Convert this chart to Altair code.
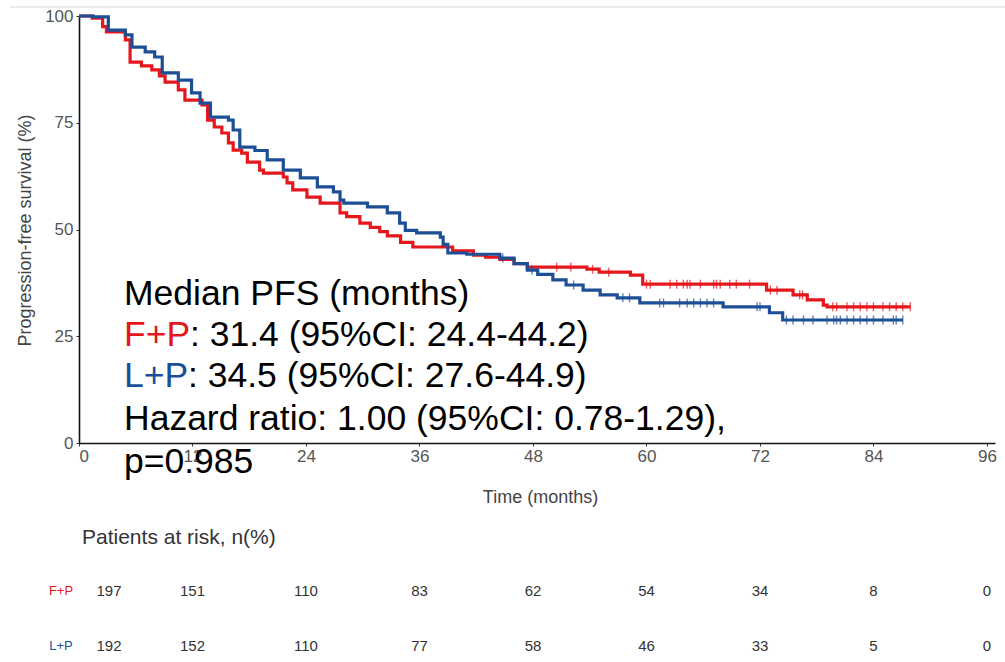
import altair as alt
import numpy as np
import pandas as pd

# Kaplan-Meier step curves (months, % progression-free)
fp_time = [0, 1.4, 2.5, 2.9, 4.9, 5.4, 6.6, 7.7, 8.5, 9.1, 10.5, 11.2, 13.0, 13.6, 14.3,
           15.1, 15.8, 16.3, 17.2, 17.8, 19.1, 19.5, 21.6, 22.0, 22.6, 24.1, 25.5, 27.6,
           28.3, 29.7, 30.8, 31.8, 32.6, 34.0, 35.3, 39.5, 41.7, 43.0, 44.5, 46.0, 47.4,
           53.7, 55.0, 58.3, 59.6, 72.7, 75.5, 77.0, 78.7, 79.1, 87.9]
fp_surv = [100, 99.5, 97.5, 96.3, 94.4, 89.2, 88.3, 87.4, 86.0, 84.5, 82.7, 80.3, 79.2,
           75.6, 74.0, 72.6, 70.3, 68.6, 67.9, 65.8, 63.9, 63.2, 62.3, 60.9, 59.3, 57.6,
           56.2, 53.9, 53.0, 51.5, 50.5, 49.5, 48.5, 47.0, 45.9, 45.0, 44.0, 43.5, 43.0,
           42.0, 41.2, 40.7, 40.0, 39.3, 37.2, 35.8, 34.7, 33.5, 32.3, 31.9, 31.9]

lp_time = [0, 1.5, 3.1, 4.9, 5.6, 7.0, 8.0, 8.8, 10.5, 11.9, 12.8, 13.9, 15.8, 16.3, 17.0,
           18.6, 19.9, 21.6, 23.4, 25.2, 26.9, 27.6, 28.0, 30.5, 32.6, 33.9, 34.5, 35.7,
           38.2, 38.5, 39.0, 41.0, 44.5, 46.0, 47.4, 48.5, 50.1, 51.5, 53.3, 55.1, 56.9,
           59.3, 68.1, 73.0, 74.4, 87.1]
lp_surv = [100, 99.8, 96.7, 95.6, 92.7, 91.6, 90.4, 86.7, 85.0, 82.0, 79.6, 76.3, 75.6,
           73.3, 69.3, 68.5, 66.3, 63.9, 62.1, 60.0, 58.8, 56.9, 56.2, 55.3, 53.9, 51.5,
           49.8, 49.2, 48.2, 46.5, 44.5, 44.2, 43.3, 42.0, 40.5, 39.5, 38.2, 37.0, 35.8,
           34.7, 34.0, 32.8, 31.9, 30.5, 28.8, 28.8]

# Censoring times
fp_censor = [50.5, 52.0, 54.3, 56.0, 60.0, 60.4, 62.5, 63.2, 63.9, 64.3, 64.6, 65.7, 67.1,
             67.4, 67.8, 68.8, 69.5, 70.9, 73.1, 73.8, 76.2, 76.5, 79.7, 80.1, 81.2, 81.9,
             82.6, 83.3, 84.0, 85.0, 85.7, 86.4, 87.1, 87.9]
lp_censor = [44.8, 47.9, 52.3, 57.5, 58.2, 61.4, 61.8, 63.5, 64.3, 65.0, 65.7, 66.4, 67.1,
             71.7, 72.0, 74.8, 75.5, 76.6, 77.6, 79.1, 79.8, 80.1, 80.5, 81.2, 81.9, 82.6,
             83.3, 84.0, 85.0, 86.1, 86.4, 87.1]

# Number at risk
risk_times = [0, 12, 24, 36, 48, 60, 72, 84, 96]
fp_risk = [197, 151, 110, 83, 62, 54, 34, 8, 0]
lp_risk = [192, 152, 110, 77, 58, 46, 33, 5, 0]

arms = ["F+P", "L+P"]
RED = "#e5161c"
BLUE = "#1c4f96"
FONT = "Liberation Sans"


def step_value(times, surv, t):
    i = np.searchsorted(times, t, side="right") - 1
    return surv[i]


curves = pd.concat([
    pd.DataFrame({"arm": "F+P", "time": fp_time, "surv": fp_surv}),
    pd.DataFrame({"arm": "L+P", "time": lp_time, "surv": lp_surv}),
])
censors = pd.concat([
    pd.DataFrame({"arm": "F+P", "time": fp_censor,
                  "surv": [step_value(fp_time, fp_surv, t) for t in fp_censor]}),
    pd.DataFrame({"arm": "L+P", "time": lp_censor,
                  "surv": [step_value(lp_time, lp_surv, t) for t in lp_censor]}),
])

x_scale = alt.Scale(domain=[0, 96.85], nice=False, zero=False)
y_scale = alt.Scale(domain=[0, 100], nice=False)
color = alt.Color("arm:N", scale=alt.Scale(domain=arms, range=[RED, BLUE]), legend=None)

x_axis = alt.Axis(values=risk_times, title="Time (months)", grid=False,
                  labelFontSize=17, labelColor="#555555", labelPadding=2,
                  tickColor="#333333", tickSize=3, domainColor="#111111", domainWidth=1.6,
                  titleFontSize=18, titleFontWeight="normal", titleColor="#444444",
                  titleX=461, titleY=54, titleBaseline="middle")
y_axis = alt.Axis(values=[0, 25, 50, 75, 100], title="Progression-free survival (%)",
                  grid=False, labelFontSize=17, labelColor="#555555", labelPadding=3,
                  tickColor="#333333", tickSize=3, domainColor="#111111", domainWidth=1.6,
                  titleFontSize=18, titleFontWeight="normal", titleColor="#444444",
                  titleX=-54, titleY=214, titleAlign="center", titleBaseline="middle")

lines = alt.Chart(curves).mark_line(interpolate="step-after", strokeWidth=3.2).encode(
    x=alt.X("time:Q", scale=x_scale, axis=x_axis),
    y=alt.Y("surv:Q", scale=y_scale, axis=y_axis),
    color=color,
    detail="arm:N",
)

ticks = alt.Chart(censors).mark_tick(orient="vertical", size=9, thickness=1.4).encode(
    x=alt.X("time:Q", scale=x_scale),
    y=alt.Y("surv:Q", scale=y_scale),
    color=color,
)


def label(text, x, y, size, col="#000000", align="left", baseline="alphabetic"):
    return alt.Chart(pd.DataFrame({"t": [text]})).mark_text(
        font=FONT, fontSize=size, color=col, align=align, baseline=baseline
    ).encode(text="t:N", x=alt.value(x), y=alt.value(y))


ANN = 35.5
ann = [
    label("Median PFS (months)", 45, 289, ANN),
    label("F+P", 45, 330, ANN, RED),
    label(": 31.4 (95%CI: 24.4-44.2)", 111, 330, ANN),
    label("L+P", 45, 371, ANN, BLUE),
    label(": 34.5 (95%CI: 27.6-44.9)", 109, 371, ANN),
    label("Hazard ratio: 1.00 (95%CI: 0.78-1.29),", 45, 414, ANN),
    label("p=0.985", 45, 457, ANN),
]

# At-risk table under the axis
table = [
    label("Patients at risk, n(%)", 3, 522, 21, "#333333", baseline="middle"),
    label("F+P", -18, 575, 13, RED, align="center", baseline="middle"),
    label("L+P", -18, 630, 13, BLUE, align="center", baseline="middle"),
]
risk = pd.DataFrame({"time": risk_times * 2,
                     "n": fp_risk + lp_risk,
                     "arm": ["F+P"] * len(risk_times) + ["L+P"] * len(risk_times)})
row_y = {"F+P": 575, "L+P": 630}
for arm in arms:
    sub = risk[risk["arm"] == arm]
    first = sub[sub["time"] == 0]
    rest = sub[sub["time"] > 0]
    table.append(alt.Chart(rest).mark_text(font=FONT, fontSize=15, color="#333333",
                                           baseline="middle").encode(
        x=alt.X("time:Q", scale=x_scale), y=alt.value(row_y[arm]), text="n:Q"))
    table.append(alt.Chart(first).mark_text(font=FONT, fontSize=15, color="#333333",
                                            baseline="middle", dx=30).encode(
        x=alt.X("time:Q", scale=x_scale), y=alt.value(row_y[arm]), text="n:Q"))

top_rule = alt.Chart(pd.DataFrame({"a": [0]})).mark_rule(color="#e4e4e4", strokeWidth=1.5).encode(
    x=alt.value(-69), x2=alt.value(926), y=alt.value(-9))

chart = alt.layer(top_rule, lines, ticks, *ann, *table).properties(
    width=916, height=427,
    autosize=alt.AutoSizeParams(type="none"),
    padding={"left": 79, "top": 16, "right": 10, "bottom": 219},
    background="white",
).configure_view(stroke=None).configure_text(font=FONT).configure_axis(
    labelFont=FONT, titleFont=FONT)

chart.save("out.html", embed_options={"renderer": "svg", "actions": False})
